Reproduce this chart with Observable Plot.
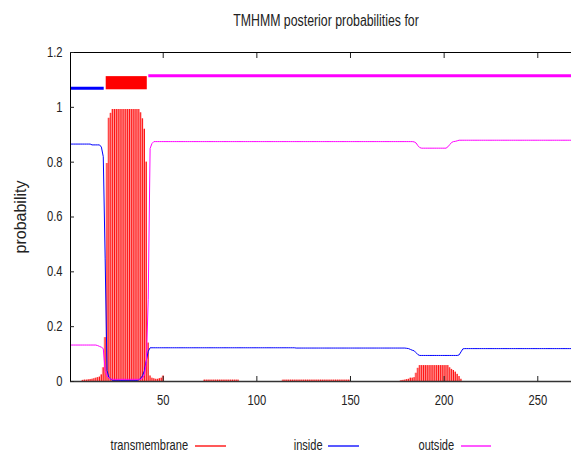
<!DOCTYPE html>
<html>
<head>
<meta charset="utf-8">
<script src="https://cdn.jsdelivr.net/npm/d3@7"></script>
<script src="https://cdn.jsdelivr.net/npm/@observablehq/plot@0.6"></script>
<style>
  html, body { margin: 0; padding: 0; background: #fff; }
  #wrap { position: relative; width: 571px; height: 454px; font-family: "Liberation Sans", Arial, sans-serif; color: #222; overflow: hidden; }
  #title { position: absolute; top: 12px; left: 326px; font-size: 16px; white-space: nowrap; transform: translateX(-50%) scaleX(0.77); }
  #chart { position: absolute; top: 40px; left: 0; }
  .lg { position: absolute; top: 437px; font-size: 14px; white-space: nowrap; line-height: 16px; transform: scaleX(0.79); transform-origin: right center; }
  .sw { position: absolute; top: 445px; height: 2px; }
</style>
</head>
<body>
<div id="wrap">
  <div id="title">TMHMM posterior probabilities for</div>
  <div id="chart"></div>
</div>
<script>
// ---- data ----
const seriesNames = ["transmembrane", "inside", "outside"];
const xTicks = [50, 100, 150, 200, 250];
const yTicks = [0, 0.2, 0.4, 0.6, 0.8, 1, 1.2];

const segments = [
  {label: "inside",  start: 1,  end: 18},
  {label: "TMhelix", start: 19, end: 41},
  {label: "outside", start: 42, end: 268}
];

const transmembrane = [
  0,0,0,0,0,0,.004,.005,.005,.006,
  .007,.008,.010,.012,.014,.016,.024,.05,.16,.795,
  .96,.978,.992,.992,.992,.992,.992,.992,.992,.992,
  .992,.992,.992,.992,.992,.992,.992,.98,.958,.92,
  .8,.14,.02,.012,.01,.008,.008,.01,.012,.02,
  0,0,0,0,0,0,0,0,0,0,
  0,0,0,0,0,0,0,0,0,0,
  0,.005,.005,.005,.005,.005,.005,.005,.005,.005,
  .005,.005,.005,.005,.005,.005,.005,.005,.005,.005,
  0,0,0,0,0,0,0,0,0,0,
  0,0,0,0,0,0,0,0,0,0,
  0,0,0,.005,.005,.005,.005,.005,.005,.005,
  .005,.005,.005,.005,.005,.005,.005,.005,.005,.005,
  .005,.005,.005,.005,.005,.005,.005,.005,.005,.005,
  .005,.005,.005,.005,.005,.005,.005,.005,.005,.005,
  0,0,0,0,0,0,0,0,0,0,
  0,0,0,0,0,0,0,0,0,0,
  0,0,0,0,0,0,.003,.004,.005,.007,
  .008,.012,.012,.014,.03,.048,.058,.058,.058,.058,
  .058,.058,.058,.058,.058,.058,.058,.058,.058,.058,
  .058,.058,.05,.044,.04,.034,.026,.018,.008,0,
  0,0,0,0,0,0,0,0,0,0,
  0,0,0,0,0,0,0,0,0,0,
  0,0,0,0,0,0,0,0,0,0,
  0,0,0,0,0,0,0,0,0,0,
  0,0,0,0,0,0,0,0,0,0,
  0,0,0,0,0,0,0,0
];

const inside = [
  .866,.866,.866,.866,.866,.866,.866,.866,.866,.866,
  .866,.863,.863,.863,.863,.863,.855,.82,.45,.04,
  .015,.008,.004,.004,.004,.004,.004,.004,.004,.004,
  .004,.004,.004,.004,.004,.004,.006,.012,.022,.04,
  .077,.11,.123,.123,.123,.123,.123,.123,.123,.123,
  .123,.123,.123,.123,.123,.123,.123,.123,.123,.123,
  .123,.123,.123,.123,.123,.123,.123,.123,.123,.123,
  .123,.123,.123,.123,.123,.123,.123,.123,.123,.123,
  .123,.123,.123,.123,.123,.123,.123,.123,.123,.123,
  .123,.123,.123,.123,.123,.123,.123,.123,.123,.123,
  .123,.123,.123,.123,.123,.123,.123,.123,.123,.123,
  .123,.123,.123,.123,.123,.123,.123,.123,.123,.123,
  .122,.122,.122,.122,.122,.122,.122,.122,.122,.122,
  .122,.122,.122,.122,.122,.122,.122,.122,.122,.122,
  .122,.122,.122,.122,.122,.122,.122,.122,.122,.122,
  .122,.122,.122,.122,.122,.122,.122,.122,.122,.122,
  .122,.122,.122,.122,.122,.122,.122,.122,.122,.122,
  .122,.122,.122,.122,.122,.122,.122,.122,.122,.121,
  .12,.117,.114,.112,.105,.098,.095,.095,.095,.095,
  .095,.095,.095,.095,.095,.095,.095,.095,.095,.095,
  .095,.095,.095,.095,.095,.095,.095,.097,.108,.119,
  .12,.12,.12,.12,.12,.12,.12,.12,.12,.12,
  .12,.12,.12,.12,.12,.12,.12,.12,.12,.12,
  .12,.12,.12,.12,.12,.12,.12,.12,.12,.12,
  .12,.12,.12,.12,.12,.12,.12,.12,.12,.12,
  .12,.12,.12,.12,.12,.12,.12,.12,.12,.12,
  .12,.12,.12,.12,.12,.12,.12,.12
];

const outside = [
  .133,.133,.133,.133,.133,.133,.133,.133,.133,.133,
  .133,.133,.133,.133,.131,.128,.125,.12,.04,.02,
  .012,.009,.008,.008,.008,.008,.008,.008,.008,.008,
  .008,.008,.008,.008,.008,.008,.008,.008,.012,.025,
  .07,.3,.85,.868,.875,.875,.875,.875,.875,.875,
  .875,.875,.875,.875,.875,.875,.875,.875,.875,.875,
  .875,.875,.875,.875,.875,.875,.875,.875,.875,.875,
  .875,.875,.875,.875,.875,.875,.875,.875,.875,.875,
  .875,.875,.875,.875,.875,.875,.875,.875,.875,.875,
  .875,.875,.875,.875,.875,.875,.875,.875,.875,.875,
  .875,.875,.875,.875,.875,.875,.875,.875,.875,.875,
  .875,.875,.875,.875,.875,.875,.875,.875,.875,.875,
  .875,.875,.875,.875,.875,.875,.875,.875,.875,.875,
  .875,.875,.875,.875,.875,.875,.875,.875,.875,.875,
  .875,.875,.875,.875,.875,.875,.875,.875,.875,.875,
  .875,.875,.875,.875,.875,.875,.875,.875,.875,.875,
  .875,.875,.875,.875,.875,.875,.875,.875,.875,.875,
  .875,.875,.875,.875,.875,.875,.875,.875,.875,.875,
  .875,.875,.875,.874,.87,.86,.853,.851,.851,.851,
  .851,.851,.851,.851,.851,.851,.851,.851,.851,.851,
  .851,.856,.864,.872,.875,.876,.878,.88,.88,.88,
  .88,.88,.88,.88,.88,.88,.88,.88,.88,.88,
  .88,.88,.88,.88,.88,.88,.88,.88,.88,.88,
  .88,.88,.88,.88,.88,.88,.88,.88,.88,.88,
  .88,.88,.88,.88,.88,.88,.88,.88,.88,.88,
  .88,.88,.88,.88,.88,.88,.88,.88,.88,.88,
  .88,.88,.88,.88,.88,.88,.88,.88
];

// ---- build table ----
const rows = transmembrane.map((tm, i) => ({pos: i + 1, tm, inside: inside[i], outside: outside[i]}));
const seqLen = rows.length;

const colors = {transmembrane: "#ff0000", inside: "#0000ff", outside: "#ff00ff"};
const font = `"Liberation Sans", Arial, sans-serif`;

// topology track levels (TMHMM plot convention)
const trackY = {inside: 1.07, outside: 1.115, tmLow: 1.064, tmHigh: 1.112};

const chart = Plot.plot({
  width: 571,
  height: 372,
  marginLeft: 70,
  marginRight: 0,
  marginTop: 12,
  marginBottom: 31,
  style: {fontFamily: font, fontSize: "14px", color: "#222", background: "#fff", overflow: "visible"},
  x: {domain: [0.5, seqLen]},
  y: {domain: [0, 1.2]},
  marks: [
    // TM impulses (pink body + red impulse lines)
    Plot.rectY(rows.filter(d => d.tm > 0), {x1: d => d.pos - 0.5, x2: d => d.pos + 0.5, y1: 0, y2: "tm", fill: "#ffa0a0"}),
    Plot.ruleX(rows.filter(d => d.tm > 0), {x: "pos", y1: 0, y2: "tm", stroke: colors.transmembrane, strokeWidth: 0.9}),
    Plot.line(rows, {x: "pos", y: "inside", stroke: colors.inside, strokeWidth: 1}),
    Plot.line(rows, {x: "pos", y: "outside", stroke: colors.outside, strokeWidth: 1}),
    // topology track
    Plot.ruleY(segments.filter(d => d.label === "inside"), {y: () => trackY.inside, x1: d => d.start - 0.5, x2: d => d.end + 0.5, stroke: colors.inside, strokeWidth: 3}),
    Plot.rect(segments.filter(d => d.label === "TMhelix"), {x1: d => d.start - 0.5, x2: d => d.end + 0.5, y1: () => trackY.tmLow, y2: () => trackY.tmHigh, fill: colors.transmembrane, insetLeft: 2}),
    Plot.ruleY(segments.filter(d => d.label === "outside"), {y: () => trackY.outside, x1: d => d.start - 0.5, x2: d => d.end + 0.5, stroke: colors.outside, strokeWidth: 3, insetLeft: 1.5}),
    // frame
    Plot.ruleY([0], {stroke: "#333", strokeWidth: 1.5}),
    Plot.ruleY([1.2], {stroke: "#000", strokeWidth: 1}),
    Plot.ruleX([0.5], {stroke: "#000", strokeWidth: 1}),
    // axes
    Plot.axisX({ticks: xTicks, tickSize: 0, tickPadding: 14, label: null}),
    Plot.axisX({ticks: xTicks, tickSize: -5, tickFormat: () => "", label: null}),
    Plot.axisX({ticks: xTicks, anchor: "top", tickSize: -5, tickFormat: () => "", label: null}),
    Plot.axisY({ticks: yTicks, tickSize: 0, tickPadding: 8, tickFormat: d => String(d), label: null}),
    Plot.axisY({ticks: yTicks, tickSize: -4, tickFormat: () => "", label: null}),
    Plot.text(["probability"], {frameAnchor: "left", rotate: -90, dx: -50, textAnchor: "middle", fontSize: 16, fill: "#222"})
  ]
});
document.getElementById("chart").appendChild(chart);

// condense tick labels horizontally like the reference's narrow font
chart.querySelectorAll('g[aria-label$="tick label"] text').forEach(t => {
  const tr = t.getAttribute("transform") || "";
  t.setAttribute("transform", `${tr} scale(0.8,1)`);
});

// legend (below the plot)
const legendPos = [
  {name: "transmembrane", textRight: 188, swLeft: 195, swWidth: 31},
  {name: "inside", textRight: 323, swLeft: 328, swWidth: 31},
  {name: "outside", textRight: 454, swLeft: 461, swWidth: 30}
];
const wrap = document.getElementById("wrap");
legendPos.forEach(p => {
  const t = document.createElement("div");
  t.className = "lg";
  t.textContent = p.name;
  t.style.right = (571 - p.textRight) + "px";
  wrap.appendChild(t);
  const s = document.createElement("div");
  s.className = "sw";
  s.style.left = p.swLeft + "px";
  s.style.width = p.swWidth + "px";
  s.style.background = colors[p.name];
  s.style.opacity = 0.65;
  wrap.appendChild(s);
});
</script>
</body>
</html>
